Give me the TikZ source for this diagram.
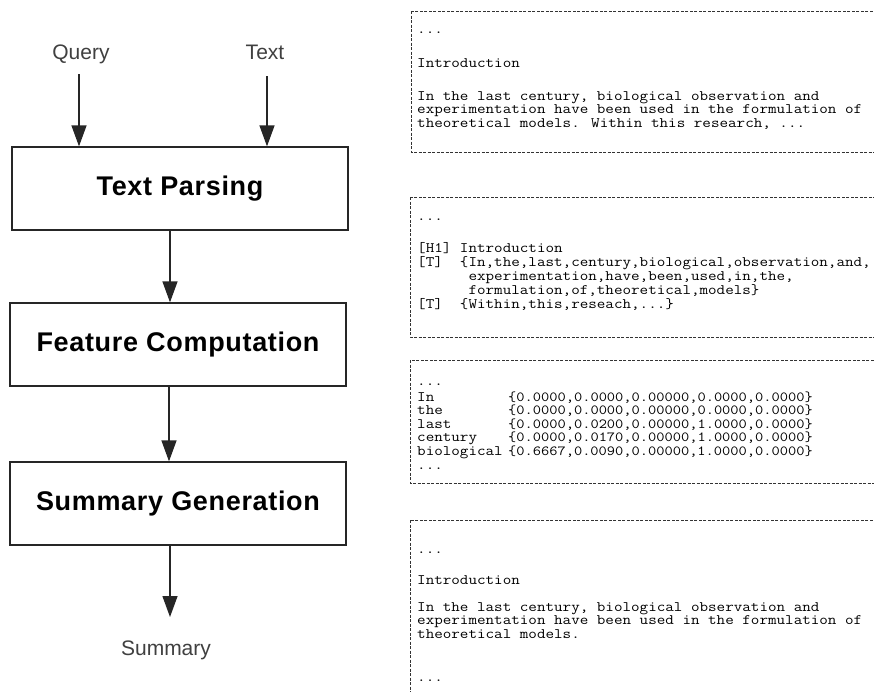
\documentclass[tikz,border=0pt]{standalone}
\usepackage{fontspec}
\setmainfont{Liberation Sans}
\newfontfamily\boxfont[LetterSpace=2.5]{Liberation Sans}
\newfontfamily\monof[FakeStretch=1.15]{Latin Modern Mono}
\usetikzlibrary{arrows.meta}
\tikzset{
  lbl/.style={font=\fontsize{21}{24}\selectfont, text=black!75, inner sep=0pt, anchor=base},
  proc/.style={draw=black!85, line width=1.3pt, minimum width=336pt, minimum height=83pt, inner sep=0pt,
    font=\boxfont\bfseries\fontsize{27}{30}\selectfont},
  arr/.style={draw=black!85, line width=1.3pt, -{Triangle[length=21pt,width=15pt]}},
  dbox/.style={draw=black!80, line width=0.8pt, dash pattern=on 3pt off 1.5pt},
  mono/.style={font=\monof\fontsize{14.45}{16}\selectfont, inner sep=0pt, anchor=base west},
  vec/.style={mono, font=\monof\fontsize{13.9}{16}\selectfont}
}
\begin{document}
\begin{tikzpicture}[x=1pt,y=-1pt]
\useasboundingbox (0,0) rectangle (874,691);
\fill[white] (0,0) rectangle (874,691);
\clip (0,0) rectangle (874,691);

% ---- left flow ----
\node[lbl] (query) at (81,59) {Query};
\node[lbl] (text) at (265,59) {Text};
\node[proc] (tp) at (180,188.5) {Text Parsing};
\node[proc] (fc) at (178,344.5) {Feature Computation};
\node[proc] (sg) at (178,503.5) {Summary Generation};
\node[lbl] (sum) at (166,655) {Summary};

\coordinate (qs) at (79,74);
\coordinate (ts) at (267,76);
\coordinate (se) at (170,617);
\draw[arr] (qs) -- (qs |- tp.north);
\draw[arr] (ts) -- (ts |- tp.north);
\draw[arr] ([xshift=-10pt]tp.south) -- ([xshift=-10pt]tp.south |- fc.north);
\draw[arr] ([xshift=-9pt]fc.south) -- ([xshift=-9pt]fc.south |- sg.north);
\draw[arr] ([xshift=-8pt]sg.south) -- (se);

% ---- right boxes ----
\draw[dbox] (411,11) rectangle (890,152);
\draw[dbox] (410,197) rectangle (890,337);
\draw[dbox] (410,360) rectangle (890,483);
\draw[dbox] (410,520) rectangle (890,710);

% box 1
\node[mono] (a1) at (417,33) {...};
\node[mono] (a2) at (417,67) {Introduction};
\node[mono] (a3) at (417,100) {In the last century, biological observation and};
\node[mono] (a4) at (417,113.5) {experimentation have been used in the formulation of};
\node[mono] (a5) at (417,127) {theoretical models. Within this research, ...};

% box 2
\node[mono] (b1) at (417,220) {...};
\node[mono] (b2) at (417,252) {[H1]~Introduction};
\node[mono] (b3) at (417,266) {[T]~~\{In,the,last,century,biological,observation,and,};
\node[mono] (b4) at (417,280) {~~~~~~experimentation,have,been,used,in,the,};
\node[mono] (b5) at (417,294) {~~~~~~formulation,of,theoretical,models\}};
\node[mono] (b6) at (417,308) {[T]~~\{Within,this,reseach,...\}};

% box 3
\node[mono] (c0) at (417,385) {...};
\node[mono] (c1) at (417,401) {In};
\node[mono] (c2) at (417,414.5) {the};
\node[mono] (c3) at (417,428) {last};
\node[mono] (c4) at (417,441.5) {century};
\node[mono] (c5) at (417,455) {biological};
\node[mono] (c6) at (417,469) {...};
\node[vec] (v1) at (508,401) {\{0.0000,0.0000,0.00000,0.0000,0.0000\}};
\node[vec] (v2) at (508,414.5) {\{0.0000,0.0000,0.00000,0.0000,0.0000\}};
\node[vec] (v3) at (508,428) {\{0.0000,0.0200,0.00000,1.0000,0.0000\}};
\node[vec] (v4) at (508,441.5) {\{0.0000,0.0170,0.00000,1.0000,0.0000\}};
\node[vec] (v5) at (508,455) {\{0.6667,0.0090,0.00000,1.0000,0.0000\}};

% box 4
\node[mono] (d1) at (417,553) {...};
\node[mono] (d2) at (417,584) {Introduction};
\node[mono] (d3) at (417,611) {In the last century, biological observation and};
\node[mono] (d4) at (417,624.5) {experimentation have been used in the formulation of};
\node[mono] (d5) at (417,638) {theoretical models.};
\node[mono] (d6) at (417,681) {...};
\end{tikzpicture}
\end{document}
